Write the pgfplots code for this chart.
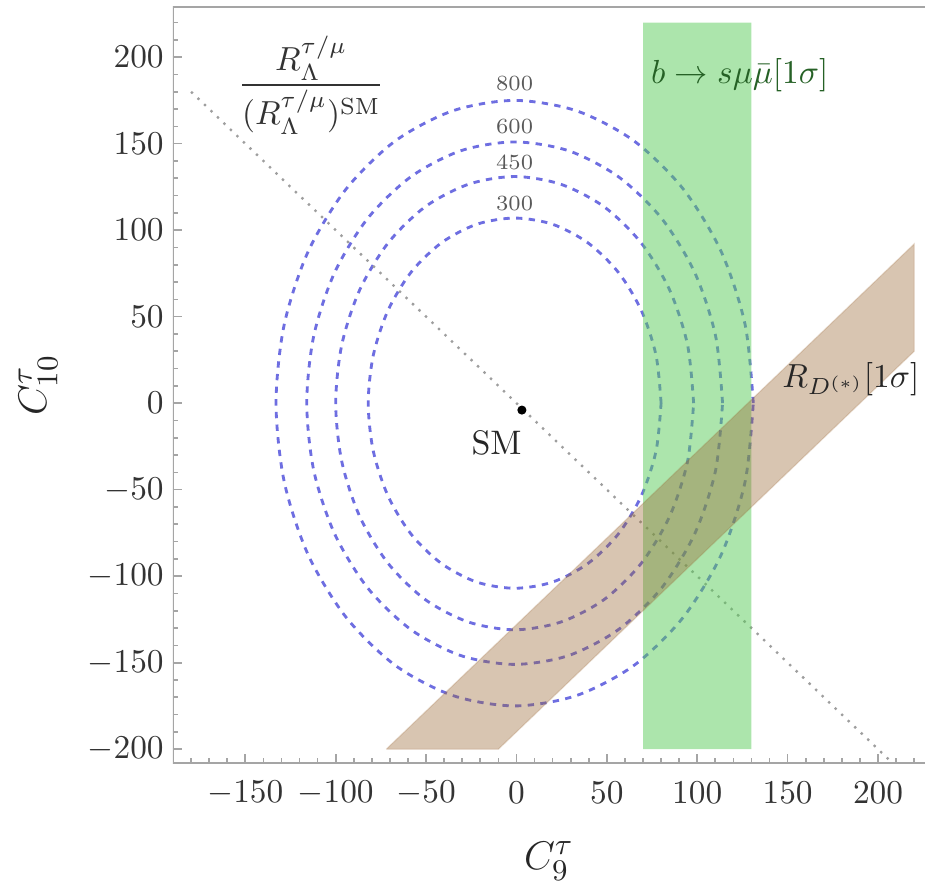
\documentclass[border=0pt]{standalone}
\usepackage{pgfplots}
\pgfplotsset{compat=1.18}
\usepackage{amsmath}
\definecolor{frame}{RGB}{165,165,165}
\definecolor{ell}{RGB}{110,110,225}
\definecolor{bandgreen}{rgb}{0.35,0.8,0.35}
\definecolor{bandbrown}{rgb}{0.6,0.4,0.2}
\definecolor{txtgreen}{rgb}{0.15,0.38,0.15}
\begin{document}
\begin{tikzpicture}
\begin{axis}[
  scale only axis,
  width=225.6pt, height=226.8pt,
  xmin=-190, xmax=226, ymin=-208, ymax=229,
  axis line style={draw=none},
  xtick={-150,-100,...,200},
  ytick={-200,-150,...,200},
  minor xtick={-180,-170,...,220},
  minor ytick={-200,-190,...,220},
  xtick pos=lower, ytick pos=left,
  tick align=inside,
  major tick length=2.6pt, minor tick length=1.5pt,
  every tick/.style={frame, line width=0.5pt},
  tick label style={black!80, font=\fontsize{10.2}{12}\selectfont},
  xticklabel style={anchor=center, yshift=-9pt},
  yticklabel style={anchor=east, inner sep=0pt, xshift=-2.6pt},
  xlabel={$C_9^{\tau}$},
  ylabel={$C_{10}^{\tau}$},
  every axis x label/.style={at={([yshift=-29.5pt]axis description cs:0.5,0)}, anchor=center, font=\fontsize{12.5}{14}\selectfont, black!85},
  every axis y label/.style={at={([xshift=-40.5pt]axis description cs:0,0.5)}, rotate=90, anchor=center, font=\fontsize{12.5}{14}\selectfont, black!85},
]
% contours
\addplot[ell, line width=0.85pt, dash pattern=on 1.9pt off 1.9pt, smooth] coordinates {
(80,0) (77.2,27.7) (69.1,53.5) (56.3,75.7) (39.5,92.7) (20.0,103.4) (-1,107)
(-22.0,103.4) (-41.5,92.7) (-58.3,75.7) (-71.1,53.5) (-79.2,27.7) (-82,0)
(-79.2,-27.7) (-71.1,-53.5) (-58.3,-75.7) (-41.5,-92.7) (-22.0,-103.4) (-1,-107)
(20.0,-103.4) (39.5,-92.7) (56.3,-75.7) (69.1,-53.5) (77.2,-27.7) (80,0)};
\addplot[ell, line width=0.85pt, dash pattern=on 1.9pt off 1.9pt, smooth] coordinates {
(98,0) (94.6,33.9) (84.7,65.5) (69.0,92.6) (48.5,113.5) (24.6,126.5) (-1,131)
(-26.6,126.5) (-50.5,113.5) (-71.0,92.6) (-86.7,65.5) (-96.6,33.9) (-100,0)
(-96.6,-33.9) (-86.7,-65.5) (-71.0,-92.6) (-50.5,-113.5) (-26.6,-126.5) (-1,-131)
(24.6,-126.5) (48.5,-113.5) (69.0,-92.6) (84.7,-65.5) (94.6,-33.9) (98,0)};
\addplot[ell, line width=0.85pt, dash pattern=on 1.9pt off 1.9pt, smooth] coordinates {
(114,0) (110.1,39.1) (98.6,75.5) (80.3,106.8) (56.5,130.8) (28.8,145.9) (-1,151)
(-30.8,145.9) (-58.5,130.8) (-82.3,106.8) (-100.6,75.5) (-112.1,39.1) (-116,0)
(-112.1,-39.1) (-100.6,-75.5) (-82.3,-106.8) (-58.5,-130.8) (-30.8,-145.9) (-1,-151)
(28.8,-145.9) (56.5,-130.8) (80.3,-106.8) (98.6,-75.5) (110.1,-39.1) (114,0)};
\addplot[ell, line width=0.85pt, dash pattern=on 1.9pt off 1.9pt, smooth] coordinates {
(131,0) (126.5,45.3) (113.3,87.5) (92.3,123.7) (65,151.6) (33.2,169.0) (-1,175)
(-35.2,169.0) (-67,151.6) (-94.3,123.7) (-115.3,87.5) (-128.5,45.3) (-133,0)
(-128.5,-45.3) (-115.3,-87.5) (-94.3,-123.7) (-67,-151.6) (-35.2,-169.0) (-1,-175)
(33.2,-169.0) (65,-151.6) (92.3,-123.7) (113.3,-87.5) (126.5,-45.3) (131,0)};
% dotted diagonal
\addplot[black!38, line width=0.7pt, dash pattern=on 0.7pt off 2pt] coordinates {(-180,180) (212,-212)};
% green band
\addplot[fill=bandgreen, fill opacity=0.5, draw=none] coordinates {(70,-200) (130,-200) (130,220) (70,220) (70,-200)};
% brown band
\addplot[fill=bandbrown, fill opacity=0.38, draw=bandbrown, draw opacity=0.2, line width=0.4pt] coordinates {(-72,-200) (-10,-200) (220,30) (220,92) (-72,-200)};
% SM point
\addplot[only marks, mark=*, mark size=1.15pt, black] coordinates {(3,-4)};
% texts
\node[black!85, font=\fontsize{10.2}{12}\selectfont] at (axis cs:-11,-23) {SM};
\node[black!80, font=\fontsize{10}{12}\selectfont] at (axis cs:-113.5,184) {$\dfrac{R_{\Lambda}^{\tau/\mu}}{(R_{\Lambda}^{\tau/\mu})^{\mathrm{SM}}}$};
\node[txtgreen, font=\fontsize{10.2}{12}\selectfont] at (axis cs:123.5,189.5) {$b\to s\mu\bar{\mu}[1\sigma]$};
\node[black!85, font=\fontsize{10.2}{12}\selectfont] at (axis cs:185,14) {$R_{D^{(*)}}[1\sigma]$};
\node[black!65, font=\fontsize{6.5}{8}\selectfont] at (axis cs:-1,185) {800};
\node[black!65, font=\fontsize{6.5}{8}\selectfont] at (axis cs:-1,160) {600};
\node[black!65, font=\fontsize{6.5}{8}\selectfont] at (axis cs:-1,139) {450};
\node[black!65, font=\fontsize{6.5}{8}\selectfont] at (axis cs:-1,115.5) {300};
% frame
\draw[frame, line width=0.6pt] (rel axis cs:1,1) -- (rel axis cs:0,1) -- (rel axis cs:0,0) -- (rel axis cs:1,0);
\end{axis}
\pgfresetboundingbox
\path (-51.9pt,-35.7pt) rectangle (225.6pt,228.9pt);
\end{tikzpicture}
\end{document}
